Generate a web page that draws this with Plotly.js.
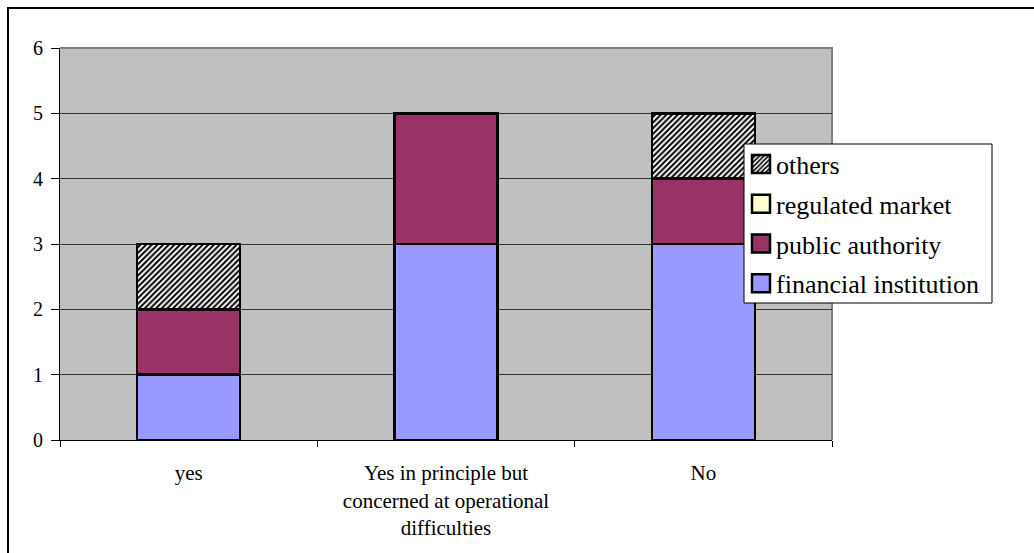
<!DOCTYPE html>
<html>
<head>
<meta charset="utf-8">
<script src="https://cdn.plot.ly/plotly-3.0.1.min.js"></script>
<style>
  html, body { margin: 0; padding: 0; background: #ffffff; }
  #chart { width: 1034px; height: 553px; }
</style>
</head>
<body>
<div id="chart"></div>
<script>
// Survey answers, counted by type of respondent
const categories = [
  'yes',
  'Yes in principle but<br>concerned at operational<br>difficulties',
  'No'
];
const financialInstitution = [1, 3, 3];
const publicAuthority = [1, 2, 1];
const regulatedMarket = [0, 0, 0];
const others = [1, 0, 1];

const yTicks = [0, 1, 2, 3, 4, 5, 6];

const W = 1034, H = 553;
const M = { l: 60, r: 202, t: 48, b: 113 };
const plotW = W - M.l - M.r;
const plotH = H - M.t - M.b;
// pixel -> paper helpers, used for the frames and the legend box
const px = x => (x - M.l) / plotW;
const py = y => (H - M.b - y) / plotH;

const serif = 'Liberation Serif, Times New Roman, serif';
const outline = { color: '#000000', width: 2.5 };

function series(name, values, rank, marker) {
  return {
    type: 'bar',
    name: name,
    x: categories,
    y: values,
    legendgroup: name,
    legendrank: rank,
    marker: Object.assign({ line: outline }, marker),
    hoverinfo: 'x+y+name'
  };
}

const data = [
  series('financial institution', financialInstitution, 4, { color: '#9999FF' }),
  series('public authority', publicAuthority, 3, { color: '#993366' }),
  series('regulated market', regulatedMarket, 2, { color: '#FFFFCC' }),
  series('others', others, 1, {
    color: '#FFFFFF',
    pattern: { shape: '/', fgcolor: '#000000', bgcolor: '#FFFFFF', size: 4, solidity: 0.5 }
  })
];

const layout = {
  width: W,
  height: H,
  margin: M,
  paper_bgcolor: '#FFFFFF',
  plot_bgcolor: '#C0C0C0',
  barmode: 'stack',
  bargap: 0.6,
  showlegend: true,
  font: { family: serif, color: '#000000', size: 20 },
  xaxis: {
    type: 'category',
    range: [-0.5, 2.5],
    tickson: 'boundaries',
    ticks: 'outside',
    ticklen: 6,
    tickwidth: 1,
    tickcolor: '#000000',
    ticklabelstandoff: 14,
    showline: true,
    linecolor: '#000000',
    linewidth: 1,
    showgrid: false,
    zeroline: false,
    tickfont: { family: serif, size: 21, color: '#000000' },
    fixedrange: true
  },
  yaxis: {
    range: [0, 6],
    tickvals: yTicks,
    ticktext: yTicks.map(String),
    ticks: 'outside',
    ticklen: 8,
    tickwidth: 1,
    tickcolor: '#000000',
    ticklabelstandoff: 4,
    showline: true,
    linecolor: '#000000',
    linewidth: 1,
    showgrid: true,
    gridcolor: '#333333',
    gridwidth: 1,
    zeroline: false,
    tickfont: { family: serif, size: 20, color: '#000000' },
    fixedrange: true
  },
  legend: {
    x: px(736),
    y: py(140.5),
    xanchor: 'left',
    yanchor: 'top',
    traceorder: 'grouped',
    tracegroupgap: 3,
    itemwidth: 30,
    bgcolor: 'rgba(0,0,0,0)',
    borderwidth: 0,
    font: { family: serif, size: 26, color: '#000000' }
  },
  shapes: [
    // plot area frame (top and right edges)
    {
      type: 'path', xref: 'paper', yref: 'paper', layer: 'below',
      path: 'M0,1 L1,1 L1,0',
      line: { color: '#808080', width: 2 }
    },
    // legend box
    {
      type: 'rect', xref: 'paper', yref: 'paper', layer: 'above',
      x0: px(744), x1: px(992), y0: py(144), y1: py(303),
      fillcolor: '#FFFFFF',
      line: { color: '#000000', width: 1 }
    },
    // outer chart frame, top and left edges
    {
      type: 'path', xref: 'paper', yref: 'paper', layer: 'above',
      path: 'M' + px(1040) + ',' + py(8) + ' L' + px(8) + ',' + py(8) + ' L' + px(8) + ',' + py(560),
      line: { color: '#000000', width: 2 }
    }
  ]
};

Plotly.newPlot('chart', data, layout, { displayModeBar: false, staticPlot: true }).then(() => {
  // larger legend swatches, nudged right inside the box
  document.querySelectorAll('#chart .legend .legendpoints path').forEach(p => {
    p.setAttribute('d', 'M14,9H-4V-9H14Z');
  });
});
</script>
</body>
</html>
